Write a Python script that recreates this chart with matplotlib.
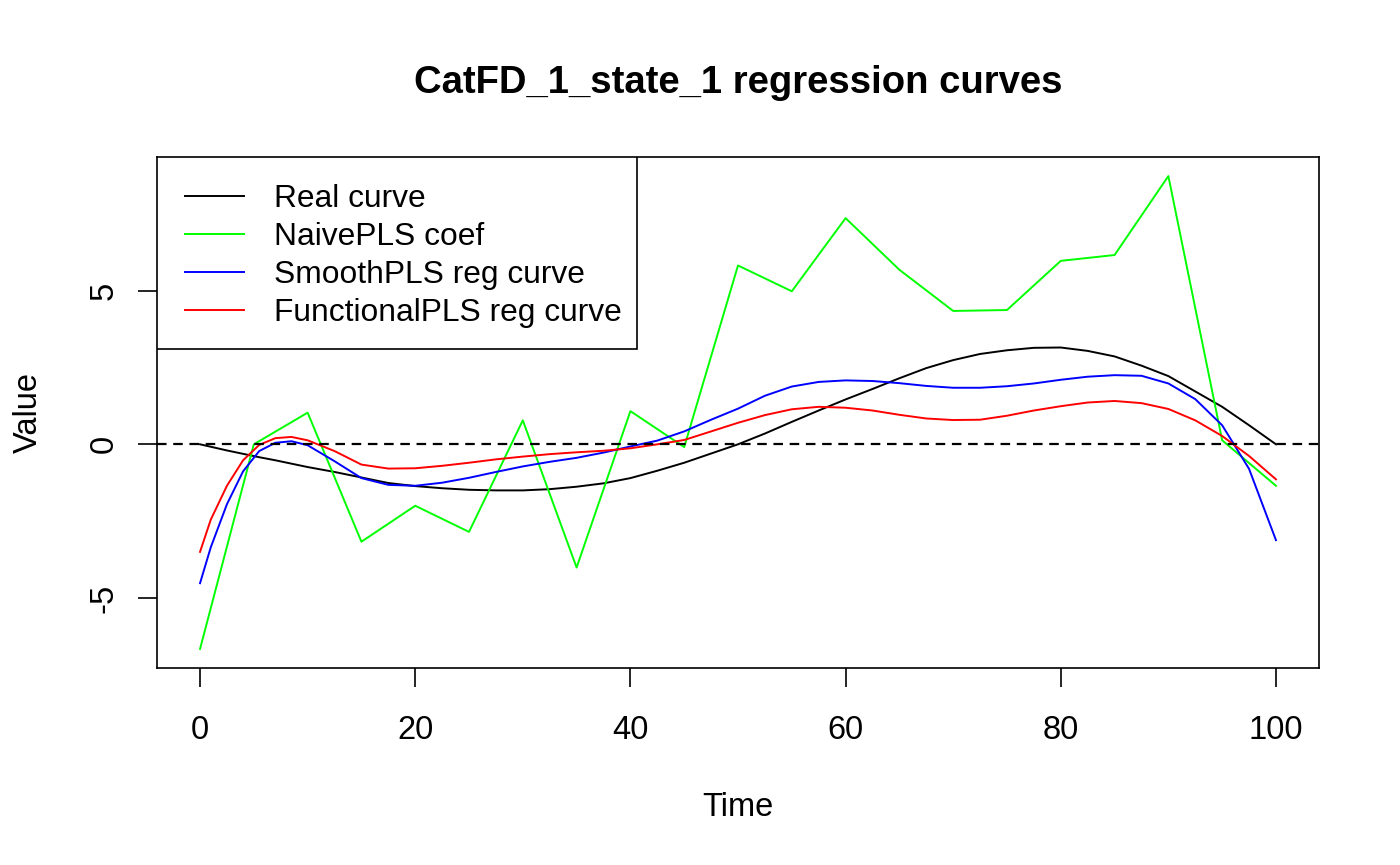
import matplotlib
matplotlib.use("Agg")
import matplotlib.pyplot as plt
from matplotlib.patches import Rectangle

plt.rcParams['font.family'] = ['Liberation Sans', 'DejaVu Sans']
plt.rcParams['axes.unicode_minus'] = False

# NaivePLS coefficients, one per 5 time units
naive_t = [0, 5, 10, 15, 20, 25, 30, 35, 40, 45, 50,
           55, 60, 65, 70, 75, 80, 85, 90, 95, 100]
naive_coef = [-6.66, 0.0, 1.03, -3.17, -2.0, -2.85, 0.78, -4.01, 1.08, -0.09, 5.82,
              4.98, 7.36, 5.68, 4.34, 4.37, 5.97, 6.16, 8.73, 0.13, -1.35]

# smooth curves
curve_t = [0, 1, 2.5, 4, 5.5, 7, 8.5, 10, 12.5, 15, 17.5, 20, 22.5, 25, 27.5,
           30, 32.5, 35, 37.5, 40, 42.5, 45, 47.5, 50, 52.5, 55, 57.5, 60,
           62.5, 65, 67.5, 70, 72.5, 75, 77.5, 80, 82.5, 85, 87.5, 90, 92.5,
           95, 97.5, 100]

real_curve = [0.0, -0.08, -0.2, -0.31, -0.42, -0.52, -0.63, -0.74, -0.90, -1.08,
              -1.26, -1.36, -1.43, -1.48, -1.50, -1.50, -1.46, -1.38, -1.27, -1.10,
              -0.86, -0.60, -0.30, 0.0, 0.35, 0.73, 1.10, 1.46, 1.80, 2.15,
              2.48, 2.74, 2.94, 3.06, 3.14, 3.15, 3.04, 2.86, 2.56, 2.22,
              1.72, 1.22, 0.62, 0.0]

smooth_pls = [-4.52, -3.35, -1.95, -0.88, -0.22, 0.05, 0.10, -0.03, -0.55, -1.10,
              -1.32, -1.35, -1.25, -1.09, -0.90, -0.72, -0.57, -0.44, -0.27, -0.07,
              0.12, 0.42, 0.80, 1.16, 1.58, 1.88, 2.03, 2.08, 2.06, 1.99,
              1.90, 1.84, 1.84, 1.89, 1.98, 2.10, 2.20, 2.25, 2.23, 1.98,
              1.47, 0.62, -0.80, -3.12]

functional_pls = [-3.50, -2.45, -1.35, -0.52, -0.02, 0.20, 0.24, 0.13, -0.22, -0.66,
                  -0.79, -0.78, -0.70, -0.60, -0.49, -0.40, -0.32, -0.26, -0.21, -0.13,
                  0.0, 0.14, 0.42, 0.70, 0.95, 1.14, 1.22, 1.19, 1.10, 0.96,
                  0.84, 0.79, 0.80, 0.93, 1.10, 1.24, 1.36, 1.41, 1.34, 1.15,
                  0.78, 0.27, -0.38, -1.14]

labels = ['Real curve', 'NaivePLS coef', 'SmoothPLS reg curve', 'FunctionalPLS reg curve']
colors = ['black', '#00FF00', '#0000FF', '#FF0000']

fig = plt.figure(figsize=(14, 8.65), dpi=100)
ax = fig.add_axes([157 / 1400, 1 - 668 / 865, (1319 - 157) / 1400, (668 - 157) / 865])

lw = 1.4
ax.plot(curve_t, real_curve, color=colors[0], lw=lw)
ax.plot(naive_t, naive_coef, color=colors[1], lw=lw)
ax.plot(curve_t, smooth_pls, color=colors[2], lw=lw)
ax.plot(curve_t, functional_pls, color=colors[3], lw=lw)
ax.axhline(0, color='black', lw=1.6, linestyle=(0, (4.3, 3.0)))

ax.set_xlim(-4, 104)
ax.set_ylim(-7.28, 9.35)
ax.set_xticks([0, 20, 40, 60, 80, 100])
ax.set_yticks([-5, 0, 5])
ax.tick_params(axis='both', direction='out', length=14, width=1.2, labelsize=23.5)
ax.tick_params(axis='x', pad=20)
ax.tick_params(axis='y', pad=13)
plt.setp(ax.get_yticklabels(), rotation=90, va='center')
for s in ax.spines.values():
    s.set_linewidth(1.2)

ax.set_title('CatFD_1_state_1 regression curves', fontsize=27.5, fontweight='bold', pad=46)
ax.set_xlabel('Time', fontsize=23.5, labelpad=33)
ax.set_ylabel('Value', fontsize=23.5, labelpad=32)

# legend box in the top-left corner, R style
box_w, box_h = (637 - 157) / 1162, (349 - 157) / 511
ax.add_patch(Rectangle((0, 1 - box_h), box_w, box_h, transform=ax.transAxes,
                       facecolor='white', edgecolor='black', lw=1.2, zorder=5))
for i, (lab, col) in enumerate(zip(labels, colors)):
    y = (668 - (196 + 38 * i)) / 511
    ax.plot([28 / 1162, 87 / 1162], [y, y], color=col, lw=lw,
            transform=ax.transAxes, zorder=6)
    ax.text(117 / 1162, y - 11 / 511, lab, fontsize=22.9, va='baseline',
            transform=ax.transAxes, zorder=6)

fig.savefig('out.png', dpi=100)
